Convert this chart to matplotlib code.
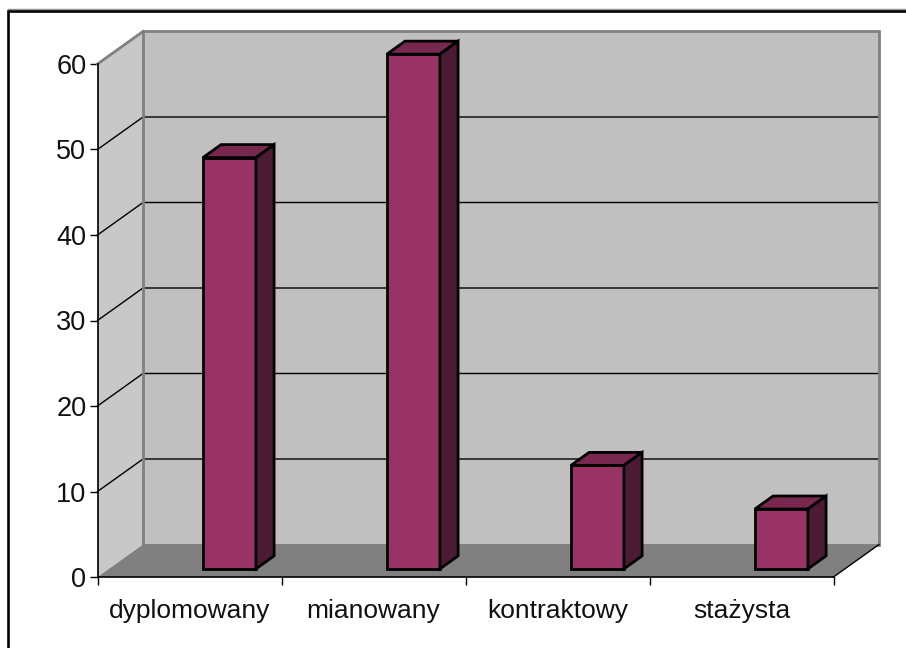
import matplotlib
matplotlib.use("Agg")
import matplotlib.pyplot as plt
from matplotlib.lines import Line2D
from matplotlib.patches import Polygon

categories = ["dyplomowany", "mianowany", "kontraktowy", "stażysta"]
values = [48.1, 60.2, 12.1, 7]
y_ticks = [0, 10, 20, 30, 40, 50, 60]

W, H = 906, 648
BAR_COLOR = "#993366"
TOP_COLOR = "#78284f"
SIDE_COLOR = "#4d1a33"
TEXT_COLOR = "#111111"

fig = plt.figure(figsize=(W / 100, H / 100), dpi=100)
plt.rcParams["font.family"] = ["Liberation Sans", "DejaVu Sans"]

# only the top and left of the chart frame are in the picture
fig.add_artist(Line2D([8 / W, 1], [1 - 9 / H, 1 - 9 / H], color="#909090", lw=1,
                      transform=fig.transFigure))
fig.add_artist(Line2D([8 / W, 8 / W, 1], [0, 1 - 10.7 / H, 1 - 10.7 / H], color="black", lw=1.9,
                      solid_joinstyle="miter", transform=fig.transFigure))

# axes sits on the front plane of the 3d box
left, right, bottom, top = 97.5, 833.5, 577, 64
ax = fig.add_axes([left / W, 1 - bottom / H, (right - left) / W, (bottom - top) / H])
ax.set_xlim(0, len(categories))
ax.set_ylim(0, 60)
ax.patch.set_visible(False)

# depth offset of the back wall, in data units
dx = 45.5 / ((right - left) / len(categories))
dy = 32.5 / ((bottom - top) / 60)
nx, ymax = len(categories), 60


def proj(x, y, d):
    return (x + d * dx, y + d * dy)


def poly(points, **kw):
    ax.add_patch(Polygon(points, closed=True, clip_on=False, **kw))


# walls and floor
poly([proj(0, 0, 1), proj(nx, 0, 1), proj(nx, ymax, 1), proj(0, ymax, 1)],
     fc="#c0c0c0", ec="none", zorder=1)
poly([proj(0, 0, 0), proj(0, 0, 1), proj(0, ymax, 1), proj(0, ymax, 0)],
     fc="#c8c8c8", ec="none", zorder=1)
poly([proj(0, 0, 0), proj(nx, 0, 0), proj(nx, 0, 1), proj(0, 0, 1)],
     fc="#808080", ec="none", zorder=1.5)

# gridlines on side and back wall
for v in y_ticks[1:-1]:
    xs, ys = zip(proj(0, v, 0), proj(0, v, 1), proj(nx, v, 1))
    ax.plot(xs, ys, color="black", lw=1, clip_on=False, zorder=2)

# wall edges
for pts in ([proj(0, 0, 1), proj(0, ymax, 1), proj(nx, ymax, 1), proj(nx, 0, 1), proj(0, 0, 1)],
            [proj(0, ymax, 0), proj(0, ymax, 1)]):
    xs, ys = zip(*pts)
    ax.plot(xs, ys, color="#808080", lw=2, clip_on=False, zorder=2.5,
            solid_joinstyle="miter")
xs, ys = zip(proj(nx, 0, 0), proj(nx, 0, 1))
ax.plot(xs, ys, color="black", lw=1, clip_on=False, zorder=2.5)

# bars
bar_w = 53 / ((right - left) / len(categories))
bar_off = 94 / ((right - left) / len(categories))
d0, d1 = 0.25, 0.65
edge = dict(ec="black", lw=2, joinstyle="miter", zorder=3)
for i, v in enumerate(values):
    x0 = i + bar_off
    x1 = x0 + bar_w
    poly([proj(x0, 0, d0), proj(x1, 0, d0), proj(x1, v, d0), proj(x0, v, d0)], fc=BAR_COLOR, **edge)
    poly([proj(x0, v, d0), proj(x1, v, d0), proj(x1, v, d1), proj(x0, v, d1)], fc=TOP_COLOR, **edge)
    poly([proj(x1, 0, d0), proj(x1, 0, d1), proj(x1, v, d1), proj(x1, v, d0)], fc=SIDE_COLOR, **edge)

# axes, ticks, labels
for s in ("top", "right"):
    ax.spines[s].set_visible(False)
ax.spines["left"].set_linewidth(1.2)
ax.spines["bottom"].set_linewidth(1.2)
ax.spines["left"].set_zorder(2.6)
ax.spines["bottom"].set_zorder(2.6)
ax.set_yticks(y_ticks)
ax.set_xticks(range(nx + 1))
ax.set_xticklabels([])
ax.set_xticks([i + 0.5 for i in range(nx)], minor=True)
ax.set_xticklabels(categories, minor=True, fontsize=19, color=TEXT_COLOR)
ax.tick_params(axis="x", which="major", length=6, width=1, direction="out")
ax.tick_params(axis="x", which="minor", length=0, pad=15.5)
ax.tick_params(axis="y", length=6, width=1, labelsize=19.5, pad=2, labelcolor=TEXT_COLOR)

fig.savefig("out.png", dpi=100)
